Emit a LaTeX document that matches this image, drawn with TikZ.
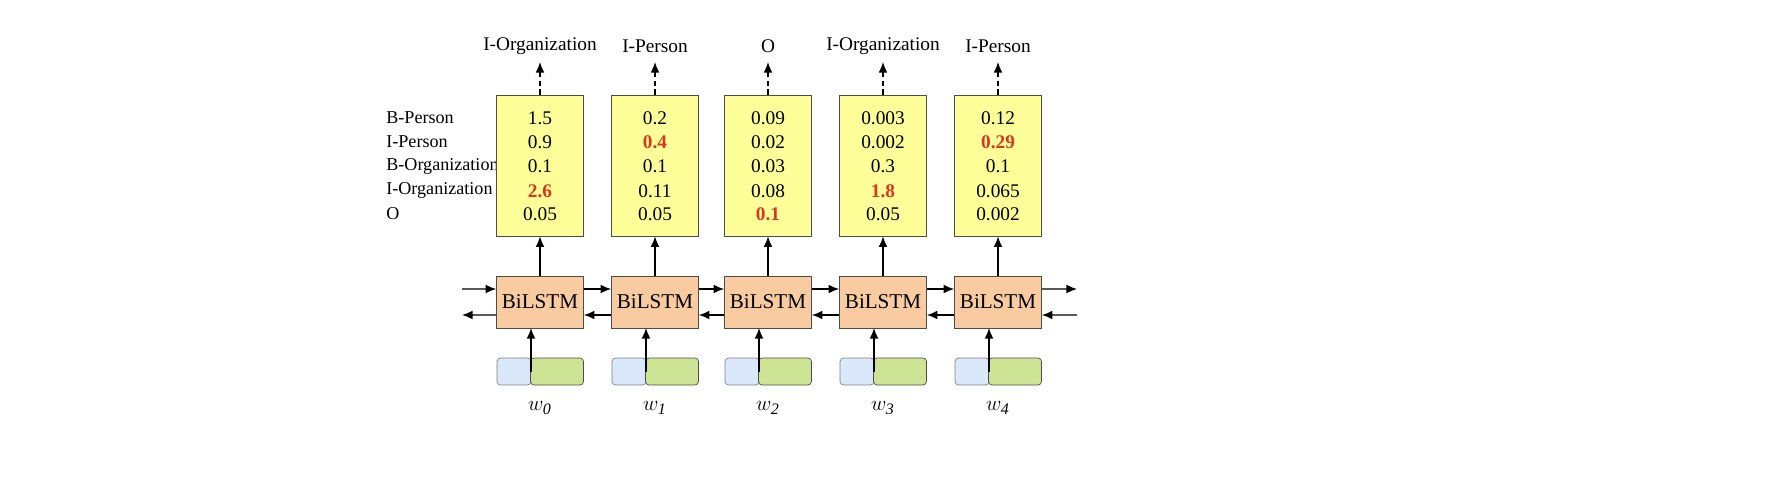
\documentclass[tikz,border=0pt]{standalone}
\usepackage{fontspec}
\setmainfont{Liberation Serif}
\usetikzlibrary{arrows.meta}
\definecolor{yel}{HTML}{FFFF99}
\definecolor{org}{HTML}{F8CBA0}
\definecolor{blu}{HTML}{DAE8FC}
\definecolor{grn}{HTML}{CDE495}
\definecolor{hl}{HTML}{D9381E}
\newcommand{\hv}[1]{\textcolor{hl}{\bfseries #1}}
\begin{document}
\begin{tikzpicture}[x=0.02cm,y=-0.02cm,
  every node/.style={font=\fontsize{11}{11}\selectfont},
  ybox/.style={draw=black!70,fill=yel,minimum width=1.74cm,minimum height=2.82cm,inner sep=0},
  lbox/.style={draw=black!70,fill=org,minimum width=1.74cm,minimum height=1.04cm,inner sep=0,font=\fontsize{12}{12}\selectfont},
  bb/.style={draw=black!50,fill=blu,rounded corners=2pt,minimum width=0.68cm,minimum height=0.54cm,inner sep=0},
  gb/.style={draw=black!70,fill=grn,rounded corners=2pt,minimum width=1.06cm,minimum height=0.54cm,inner sep=0},
  arr/.style={-{Latex[length=6pt,width=5pt]},thick},
  darr/.style={arr,densely dashed}]
\useasboundingbox (0,0) rectangle (1784,500);
% row labels
\foreach \t [count=\i from 0] in {B-Person,I-Person,B-Organization,I-Organization,O}
  \node[anchor=west,inner sep=0,font=\fontsize{10.3}{10.3}\selectfont] (rl\i) at (386,{118+24*\i}) {\t};
\def\cols{{540,655,768,883,998}}
\foreach \k/\out/\a/\b/\c/\d/\e in {
 0/I-Organization/1.5/0.9/0.1/\hv{2.6}/0.05,
 1/I-Person/0.2/\hv{0.4}/0.1/0.11/0.05,
 2/O/0.09/0.02/0.03/0.08/\hv{0.1},
 3/I-Organization/0.003/0.002/0.3/\hv{1.8}/0.05,
 4/I-Person/0.12/\hv{0.29}/0.1/0.065/0.002}{
  \pgfmathsetmacro\cx{\cols[\k]}
  \node[ybox] (y\k) at (\cx,165.5) {};
  \node (o\k) at (\cx,46) {\out};
  \draw[darr] (y\k.north) -- (\cx,62);
  \node (v\k a) at (\cx,118) {\a};
  \node (v\k b) at (\cx,142) {\b};
  \node (v\k c) at (\cx,166) {\c};
  \node (v\k d) at (\cx,191) {\d};
  \node (v\k e) at (\cx,214) {\e};
  \node[lbox] (l\k) at (\cx,302) {BiLSTM};
  \draw[arr] (l\k.north) -- (y\k.south);
  \node[bb] (b\k) at (\cx-26,371.5) {};
  \node[gb] (g\k) at (\cx+17,371.5) {};
  \coordinate (j\k) at (\cx-9,371.5);
  \draw[arr] (j\k) -- (\cx-9,328);
  \node (w\k) at (\cx,408) {\fontsize{13}{13}\selectfont$w_{\mathit{\k}}$};
}
% horizontal connections
\foreach \p/\q in {0/1,1/2,2/3,3/4}{
  \draw[arr] ([yshift=0.26cm]l\p.east) -- ([yshift=0.26cm]l\q.west);
  \draw[arr] ([yshift=-0.26cm]l\q.west) -- ([yshift=-0.26cm]l\p.east);
}
\coordinate (inL) at (462,289);
\coordinate (outL) at (462,315);
\coordinate (outR) at (1077,289);
\coordinate (inR) at (1077,315);
\draw[arr] (inL) -- ([yshift=0.26cm]l0.west);
\draw[arr] ([yshift=-0.26cm]l0.west) -- (outL);
\draw[arr] ([yshift=0.26cm]l4.east) -- (outR);
\draw[arr] (inR) -- ([yshift=-0.26cm]l4.east);
\end{tikzpicture}
\end{document}
